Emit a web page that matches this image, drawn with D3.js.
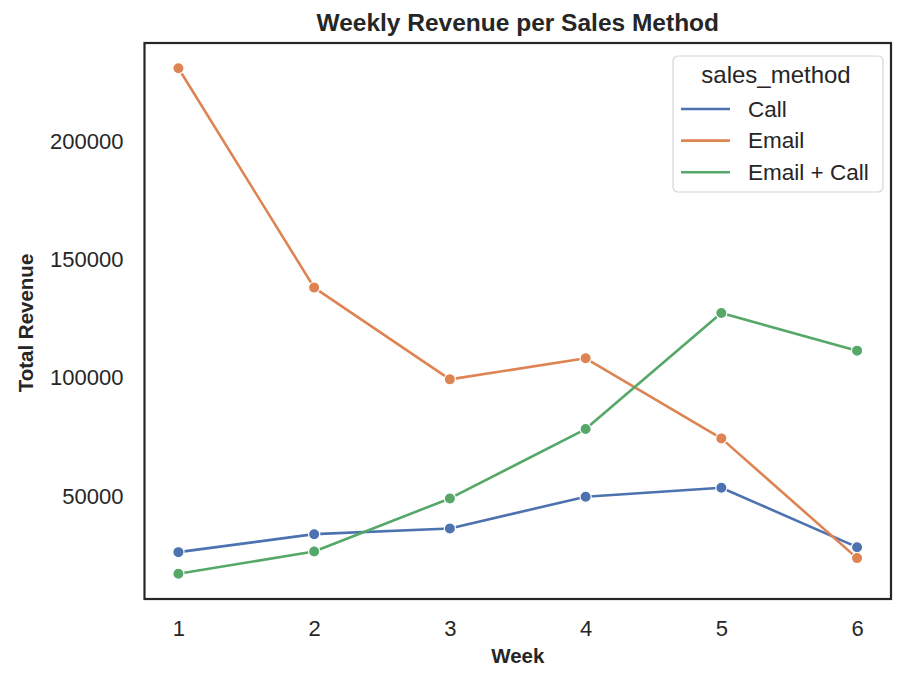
<!DOCTYPE html>
<html>
<head>
<meta charset="utf-8">
<script src="https://cdn.jsdelivr.net/npm/d3@7"></script>
<style>
  body { margin: 0; background: #fff; }
  svg text { font-family: "Liberation Sans", Arial, sans-serif; fill: #262626; }
</style>
</head>
<body>
<svg id="chart" width="921" height="673"></svg>
<script>
const weeks = [1, 2, 3, 4, 5, 6]
const methods = ['Call', 'Email', 'Email + Call']
const callRevenue = [26300, 33900, 36300, 49750, 53550, 28400]
const emailRevenue = [230900, 138150, 99360, 108250, 74400, 23770]
const emailCallRevenue = [17170, 26600, 49000, 78350, 127400, 111500]
const yTicks = [50000, 100000, 150000, 200000]
const colors = ['#4c72b0', '#dd8452', '#55a868']

function App() {
  const svg = d3.select('#chart')
  const margin = { left: 144.5, right: 921 - 891, top: 43, bottom: 673 - 599 }
  const width = 921 - margin.left - margin.right
  const height = 673 - margin.top - margin.bottom

  const series = [callRevenue, emailRevenue, emailCallRevenue].map((vals, i) => ({
    name: methods[i],
    color: colors[i],
    values: weeks.map((w, j) => ({ week: w, value: vals[j] }))
  }))

  // matplotlib-like 5% padding around the data
  const all = series.flatMap(s => s.values.map(d => d.value))
  const lo = d3.min(all), hi = d3.max(all), pad = (hi - lo) * 0.05

  const x = d3.scaleLinear().domain([0.75, 6.25]).range([0, width])
  const y = d3.scaleLinear().domain([lo - pad, hi + pad]).range([height, 0])

  const g = svg.append('g').attr('transform', `translate(${margin.left},${margin.top})`)

  // axes (no tick marks, seaborn white style)
  const xAxis = g.append('g')
    .attr('transform', `translate(0,${height})`)
    .call(d3.axisBottom(x).tickValues(weeks).tickSize(0).tickPadding(21).tickFormat(d3.format('d')))
  const yAxis = g.append('g')
    .call(d3.axisLeft(y).tickValues(yTicks).tickSize(0).tickPadding(21).tickFormat(d3.format('d')))
  xAxis.select('.domain').remove()
  yAxis.select('.domain').remove()
  g.selectAll('.tick text').style('font-size', '22px').attr('fill', '#262626')
  xAxis.selectAll('.tick text').attr('dy', '0.71em')

  const line = d3.line().x(d => x(d.week)).y(d => y(d.value))

  series.forEach(s => {
    g.append('path')
      .datum(s.values)
      .attr('fill', 'none')
      .attr('stroke', s.color)
      .attr('stroke-width', 2.6)
      .attr('stroke-linejoin', 'round')
      .attr('d', line)
    g.selectAll(null)
      .data(s.values)
      .join('circle')
      .attr('cx', d => x(d.week))
      .attr('cy', d => y(d.value))
      .attr('r', 5.6)
      .attr('fill', s.color)
      .attr('stroke', '#fff')
      .attr('stroke-width', 1.2)
  })

  // frame
  g.append('rect')
    .attr('width', width).attr('height', height)
    .attr('fill', 'none').attr('stroke', '#262626').attr('stroke-width', 2.2)

  // title & labels
  svg.append('text')
    .attr('x', margin.left + width / 2).attr('y', 31)
    .attr('text-anchor', 'middle')
    .style('font-size', '24.5px').style('font-weight', 'bold')
    .text('Weekly Revenue per Sales Method')
  svg.append('text')
    .attr('x', margin.left + width / 2).attr('y', 663)
    .attr('text-anchor', 'middle')
    .style('font-size', '20.5px').style('font-weight', 'bold')
    .text('Week')
  svg.append('text')
    .attr('transform', `translate(33,${margin.top + height / 2 + 2}) rotate(-90)`)
    .attr('text-anchor', 'middle')
    .style('font-size', '20.5px').style('font-weight', 'bold')
    .text('Total Revenue')

  // legend
  const lg = svg.append('g').attr('transform', 'translate(673,56)')
  lg.append('rect')
    .attr('width', 210).attr('height', 136).attr('rx', 5)
    .attr('fill', '#fff').attr('stroke', '#d6d6d6').attr('stroke-width', 1.2)
  lg.append('text')
    .attr('x', 103).attr('y', 27)
    .attr('text-anchor', 'middle')
    .style('font-size', '24px')
    .text('sales_method')
  const items = lg.selectAll('.legend-item')
    .data(series)
    .join('g')
    .attr('class', 'legend-item')
    .attr('transform', (d, i) => `translate(0,${53 + i * 31.6})`)
  items.append('line')
    .attr('x1', 8).attr('x2', 57)
    .attr('stroke', d => d.color).attr('stroke-width', 2.6)
  items.append('text')
    .attr('x', 75).attr('dy', '0.35em')
    .style('font-size', '22.5px')
    .text(d => d.name)
}

window.addEventListener('DOMContentLoaded', App)
</script>
</body>
</html>
